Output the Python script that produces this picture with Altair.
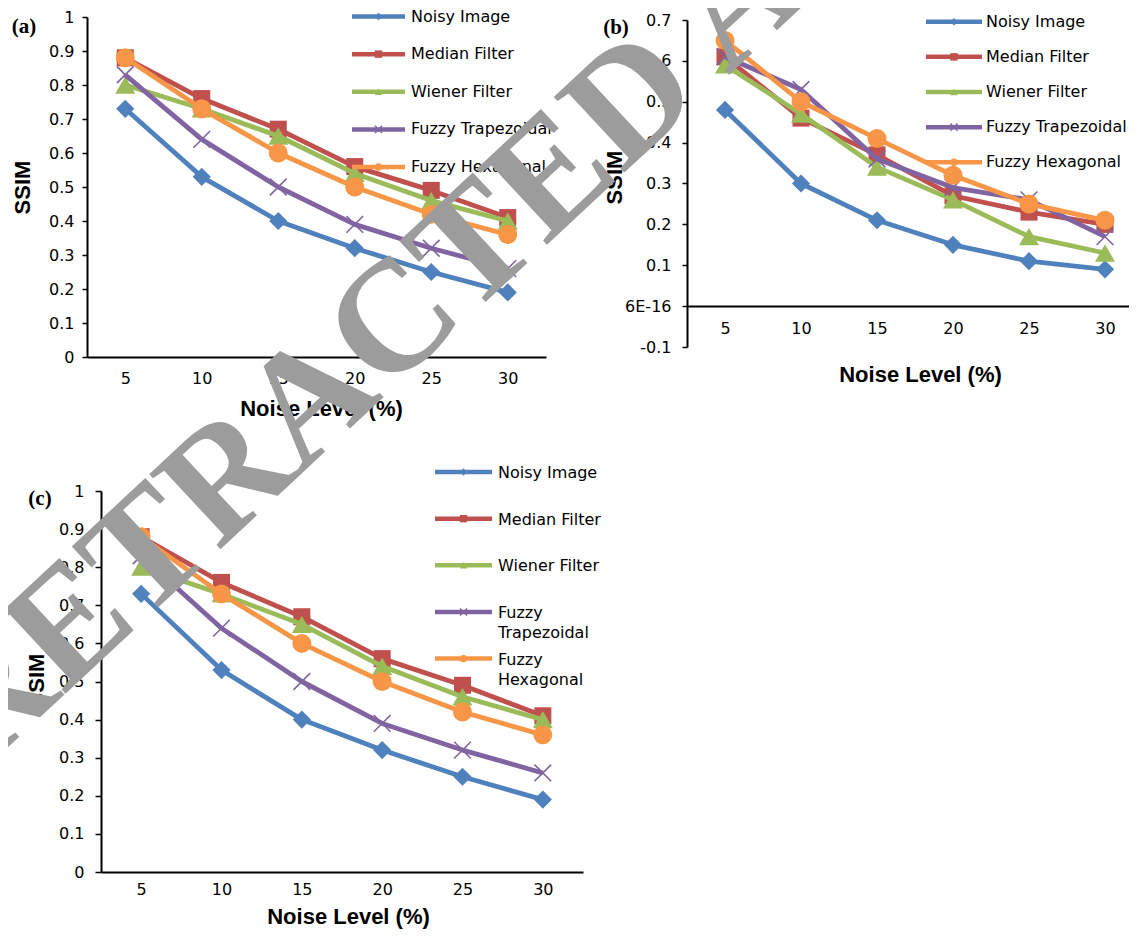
import altair as alt
import pandas as pd

# ---------------- data ----------------
noise_levels = [5, 10, 15, 20, 25, 30]
series_names = ["Noisy Image", "Median Filter", "Wiener Filter",
                "Fuzzy Trapezoidal", "Fuzzy Hexagonal"]
series_colors = ["#4F81BD", "#C0504D", "#9BBB59", "#8064A2", "#F79646"]

# panel (a)
a_noisy = [0.73, 0.53, 0.40, 0.32, 0.25, 0.19]
a_median = [0.88, 0.76, 0.67, 0.56, 0.49, 0.41]
a_wiener = [0.80, 0.73, 0.65, 0.54, 0.46, 0.40]
a_trap = [0.83, 0.64, 0.50, 0.39, 0.32, 0.26]
a_hex = [0.88, 0.73, 0.60, 0.50, 0.42, 0.36]

# panel (b)
b_noisy = [0.48, 0.30, 0.21, 0.15, 0.11, 0.09]
b_median = [0.61, 0.46, 0.37, 0.27, 0.23, 0.20]
b_wiener = [0.59, 0.47, 0.34, 0.26, 0.17, 0.13]
b_trap = [0.61, 0.53, 0.36, 0.29, 0.26, 0.17]
b_hex = [0.65, 0.50, 0.41, 0.32, 0.25, 0.21]

# panel (c)
c_noisy = [0.73, 0.53, 0.40, 0.32, 0.25, 0.19]
c_median = [0.88, 0.76, 0.67, 0.56, 0.49, 0.41]
c_wiener = [0.80, 0.73, 0.65, 0.54, 0.46, 0.40]
c_trap = [0.83, 0.64, 0.50, 0.39, 0.32, 0.26]
c_hex = [0.88, 0.73, 0.60, 0.50, 0.42, 0.36]

legend_labels_ab = ["Noisy Image", "Median Filter", "Wiener Filter",
                    "Fuzzy Trapezoidal", " Fuzzy Hexagonal"]
legend_labels_c = ["Noisy Image", "Median Filter", "Wiener Filter",
                   "Fuzzy\nTrapezoidal", " Fuzzy\nHexagonal"]
ticks_ac = [0, 0.1, 0.2, 0.3, 0.4, 0.5, 0.6, 0.7, 0.8, 0.9, 1.0]
ticks_b = [-0.1, 0, 0.1, 0.2, 0.3, 0.4, 0.5, 0.6, 0.7]
panel_letters = ["(a)", "(b)", "(c)"]
watermark_text = ["RETRACTED ARTICLE"]

XPATH = "M-1,-1L1,1M-1,1L1,-1"
MARKERS = {
    "Noisy Image": ("diamond", 330, True),
    "Median Filter": ("square", 290, True),
    "Wiener Filter": ("triangle-up", 400, True),
    "Fuzzy Trapezoidal": (XPATH, 280, False),
    "Fuzzy Hexagonal": ("circle", 360, True),
}
LEG_SHAPES = ["diamond", "square", "triangle-up", XPATH, "circle"]

color_scale = alt.Scale(domain=series_names, range=series_colors)


def make_df(vals):
    rows = []
    for name, v in zip(series_names, vals):
        for n, y in zip(noise_levels, v):
            rows.append({"series": name, "noise": n, "ssim": y})
    return pd.DataFrame(rows)


LBL_AC = "format(datum.value, '.1~f')"
LBL_B = ("abs(datum.value) < 1e-9 ? '6E-16' : (datum.value < 0 ? '-' + "
         "format(-datum.value, '.1~f') : format(datum.value, '.1~f'))")


def make_panel(df, W, H, x_range, y_axis_off, y_domain, y_range, y_ticks,
               y_label_expr, y_tick, y_pad, y_title_x, y_title_y, x_offset,
               x_pad, x_title_x, x_title_y, leg_x0, leg_x1, leg_tx, leg_rows,
               leg_labels, multiline, letter, lx, ly, extra=()):
    x_enc = alt.X(
        "noise:O",
        scale=alt.Scale(domain=noise_levels, padding=0.5, range=x_range),
        axis=alt.Axis(
            title="Noise Level (%)", labelAngle=0, ticks=False, tickSize=0,
            labelPadding=x_pad, labelFont="DejaVu Sans", labelFontSize=16,
            labelColor="black", domainColor="black", domainWidth=2,
            titleFont="Liberation Sans", titleFontSize=22,
            titleFontWeight="bold", titleColor="black",
            titleX=x_title_x, titleY=x_title_y, titleBaseline="middle",
            titleAlign="center", offset=x_offset, grid=False),
    )
    y_enc = alt.Y(
        "ssim:Q",
        scale=alt.Scale(domain=y_domain, range=y_range, nice=False, zero=False),
        axis=alt.Axis(
            values=y_ticks, labelExpr=y_label_expr, title="SSIM",
            tickSize=y_tick, tickColor="black", tickWidth=1.5,
            labelPadding=y_pad, labelFont="DejaVu Sans", labelFontSize=16,
            labelColor="black", domainColor="black", domainWidth=2,
            titleFont="Liberation Sans", titleFontSize=22,
            titleFontWeight="bold", titleColor="black", titleAngle=270,
            titleX=y_title_x, titleY=y_title_y, titleBaseline="middle",
            titleAlign="center", offset=y_axis_off, grid=False),
    )
    col = alt.Color("series:N", scale=color_scale, legend=None)

    data_layers = []
    for name in series_names:
        shape, size, filled = MARKERS[name]
        base = alt.Chart(df).transform_filter(alt.datum.series == name)
        line = base.mark_line(strokeWidth=4.8, strokeJoin="round").encode(
            x=x_enc, y=y_enc, color=col)
        if filled:
            pt = base.mark_point(shape=shape, size=size, filled=True,
                                 opacity=1).encode(x=x_enc, y=y_enc, color=col)
        else:
            pt = base.mark_point(shape=shape, size=size, filled=False,
                                 strokeWidth=1.6, opacity=1).encode(
                x=x_enc, y=y_enc, color=col)
        data_layers += [line, pt]

    # legend rows: point scale (outer padding 0.5) -> extend range by half step
    r0, r4 = leg_rows
    step = (r4 - r0) / 4.0
    leg_range = [r0 - step / 2.0, r4 + step / 2.0]
    leg_df = pd.DataFrame({"series": series_names, "label": leg_labels})
    leg_y_enc = alt.Y("series:N",
                      scale=alt.Scale(domain=series_names, range=leg_range),
                      axis=None)
    lb = alt.Chart(leg_df)
    rule = lb.mark_rule(strokeWidth=4.5).encode(
        x=alt.value(leg_x0), x2=alt.value(leg_x1), y=leg_y_enc, color=col)
    mx = (leg_x0 + leg_x1) / 2
    pts_f = lb.transform_filter(alt.datum.series != "Fuzzy Trapezoidal") \
        .mark_point(filled=True, size=55, opacity=1).encode(
            x=alt.value(mx), y=leg_y_enc, color=col,
            shape=alt.Shape("series:N",
                            scale=alt.Scale(domain=series_names,
                                            range=LEG_SHAPES),
                            legend=None))
    pts_x = lb.transform_filter(alt.datum.series == "Fuzzy Trapezoidal") \
        .mark_point(shape=XPATH, size=50, filled=False, strokeWidth=1.5,
                    opacity=1).encode(x=alt.value(mx), y=leg_y_enc, color=col)
    if multiline:
        txt = lb.mark_text(align="left", baseline="top", dy=-7,
                           font="DejaVu Sans", fontSize=16, color="black",
                           lineBreak="\n", lineHeight=20)
    else:
        txt = lb.mark_text(align="left", baseline="middle",
                           font="DejaVu Sans", fontSize=16, color="black")
    txt = txt.encode(x=alt.value(leg_tx), y=leg_y_enc, text="label:N")

    let = alt.Chart(pd.DataFrame({"t": [letter]})).mark_text(
        font="Liberation Serif", fontWeight="bold", fontSize=21,
        color="black").encode(x=alt.value(lx), y=alt.value(ly), text="t:N")

    aux = alt.layer(rule, pts_f, pts_x, txt, let, *extra)
    return alt.layer(alt.layer(*data_layers), aux).resolve_scale(
        y="independent").properties(width=W, height=H)


df_a = make_df([a_noisy, a_median, a_wiener, a_trap, a_hex])
df_b = make_df([b_noisy, b_median, b_wiener, b_trap, b_hex])
df_c = make_df([c_noisy, c_median, c_wiener, c_trap, c_hex])

panel_a = make_panel(
    df_a, 459, 340, [0, 459], 0, [0, 1], [340, 0], ticks_ac, LBL_AC, 5, 8,
    -65, 170, 0, 13, 234, 51, 265, 318, 324, [-0.5, 150], legend_labels_ab,
    False, panel_letters[0], -63, 10)

panel_b = make_panel(
    df_b, 456, 340, [0, 456], 0, [-0.1, 0.7], [330, 3], ticks_b, LBL_B, 5, 11,
    -73, 160, -50.9, 14, 233, 68, 239, 295, 299, [4.7, 145.3],
    legend_labels_ab, False, panel_letters[1], -71, 10.5)

watermark = alt.Chart(pd.DataFrame({"t": watermark_text})).mark_text(
    angle=317, font="Liberation Serif", fontWeight="bold", fontSize=158,
    color="#9c9c9c", align="left", baseline="middle").encode(
    x=alt.value(-139), y=alt.value(248), text="t:N")

panel_c = make_panel(
    df_c, 496, 381, [14, 496], -14, [0, 1], [381, 0], ticks_ac, LBL_AC, 6, 11,
    -65, 189, 0, 9, 261, 44, 348, 405, 411, [-19, 167.6], legend_labels_c,
    True, panel_letters[2], -47, 7.5, extra=(watermark,))

chart = alt.concat(
    panel_a, panel_b, panel_c, columns=2, bounds="flush", align="each",
    spacing={"row": 134, "column": 104},
).properties(
    autosize=alt.AutoSizeParams(type="none"),
    padding={"left": 79, "top": 9, "right": 1042, "bottom": 912},
    background="white",
).configure_view(stroke=None)

chart.save("out.html", embed_options={"renderer": "svg", "actions": False})
